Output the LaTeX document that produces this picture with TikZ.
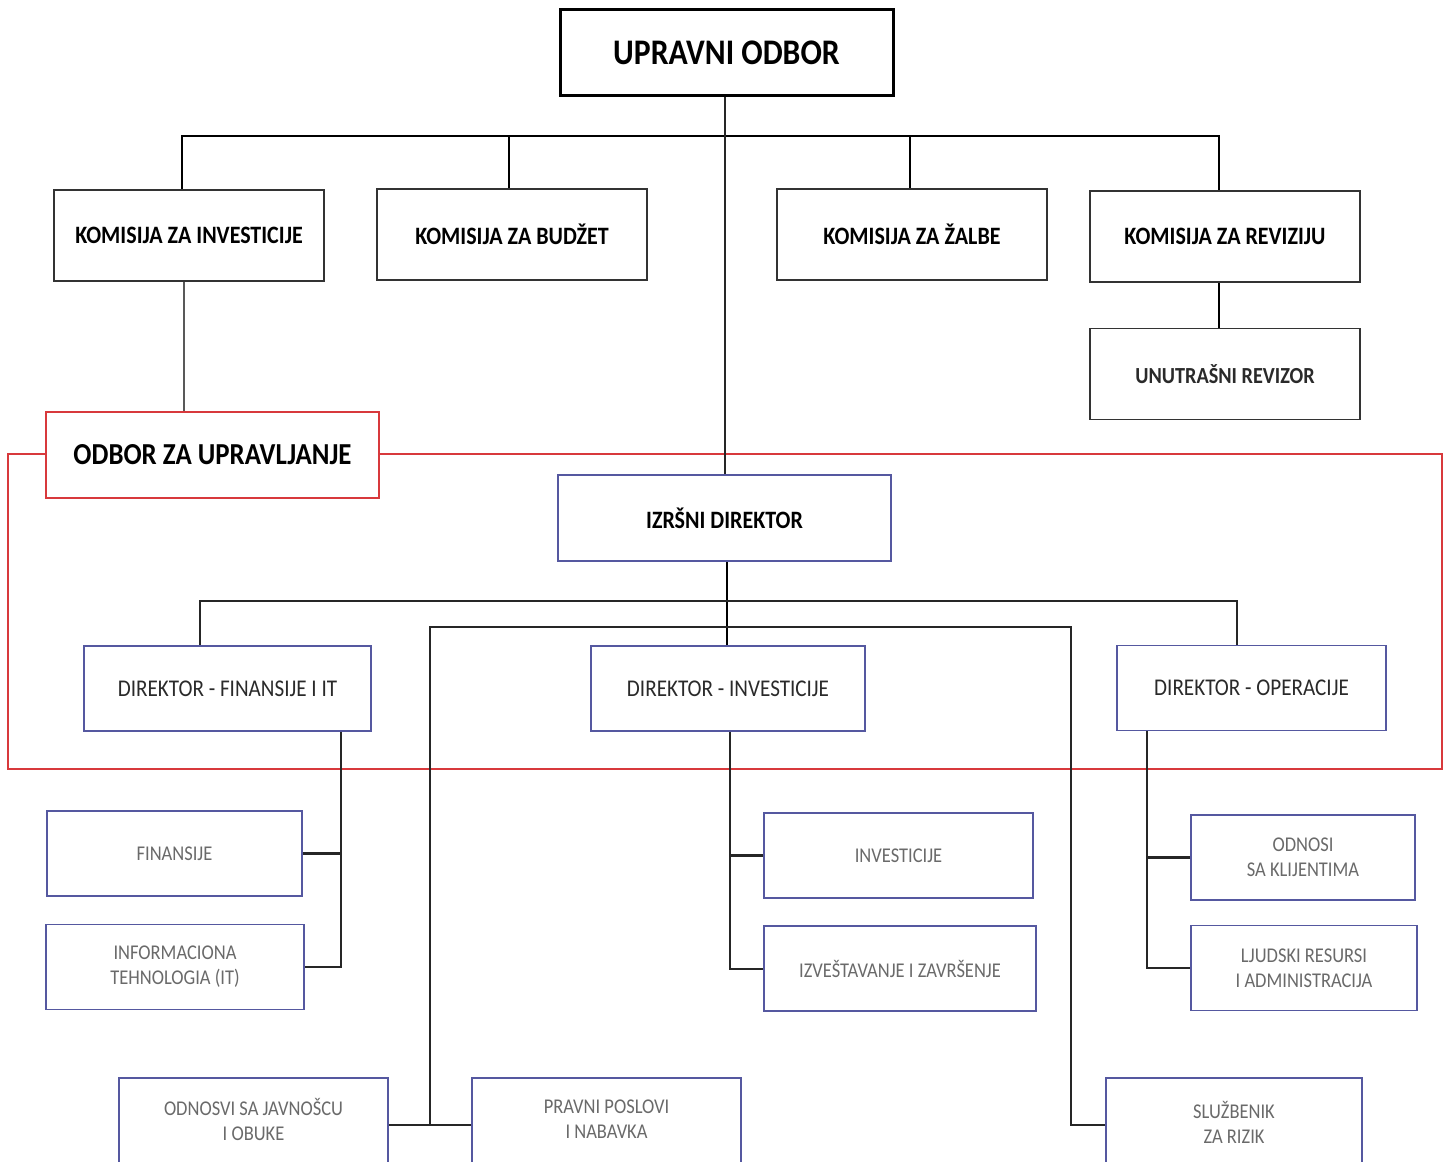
\documentclass[tikz,border=0pt]{standalone}
\usepackage{fontspec}
\setmainfont{Carlito}[FakeStretch=0.88]
\definecolor{bluebd}{HTML}{5558A0}
\definecolor{redbd}{HTML}{D8393C}
\definecolor{lowtxt}{HTML}{6A6A6A}
\definecolor{midtxt}{HTML}{2A2A2A}
\begin{document}
\begin{tikzpicture}[x=1pt,y=-1pt,
  boxbase/.style={draw,rectangle,inner sep=0pt,align=center,fill=white},
  topbox/.style={boxbase,line width=3pt,font=\fontsize{36}{40}\selectfont\bfseries},
  kombox/.style={boxbase,draw=black!80,line width=1.6pt,minimum width=270,minimum height=91,font=\fontsize{25}{29}\selectfont\bfseries},
  odbbox/.style={boxbase,draw=redbd,line width=1.8pt,minimum width=333,minimum height=86,font=\fontsize{30.5}{34}\selectfont\bfseries},
  izvbox/.style={boxbase,draw=bluebd,line width=1.8pt,minimum width=333,minimum height=86,font=\fontsize{25}{29}\selectfont\bfseries},
  dirbox/.style={boxbase,draw=bluebd,line width=1.8pt,minimum height=85,text=midtxt,font=\fontsize{24}{28}\selectfont},
  lowbox/.style={boxbase,draw=bluebd,line width=1.8pt,minimum height=85,text=lowtxt,font=\fontsize{21}{25}\selectfont},
  conn/.style={line width=2.4pt,black},
  thin/.style={line width=1.6pt,black!85},
  redline/.style={line width=1.5pt,redbd}]
\clip (0,0) rectangle (1447,1161);
\fill[white] (0,0) rectangle (1447,1161);

% red frame
\coordinate (fBL) at (8,769);
\coordinate (fTR) at (1442,454);

% coordinates for buses
\coordinate (busA) at (724,136);
\coordinate (busB) at (727,601);
\coordinate (ib1) at (430,627);
\coordinate (ib2) at (1071,627);
\coordinate (fv) at (341,0);
\coordinate (iv) at (730,0);
\coordinate (ov) at (1147,0);

% nodes
\node[topbox,minimum width=333,minimum height=86] (top) at (726.5,53) {UPRAVNI ODBOR};
\node[kombox] (k1) at (189,235.5) {KOMISIJA ZA INVESTICIJE};
\node[kombox] (k2) at (512,234.5) {KOMISIJA ZA BUDŽET};
\node[kombox] (k3) at (912,234.5) {KOMISIJA ZA ŽALBE};
\node[kombox] (k4) at (1225,236.5) {KOMISIJA ZA REVIZIJU};
\node[kombox,font=\fontsize{23}{27}\selectfont\bfseries\color{midtxt}] (rev) at (1225,374) {UNUTRAŠNI REVIZOR};

% red frame drawn before odbor so box covers it
\draw[redline] (46,454) -| (fBL) -| (fTR) -- (379,454);
\node[odbbox] (odb) at (212.5,455) {ODBOR ZA UPRAVLJANJE};
\node[izvbox] (izv) at (724.5,518) {IZRŠNI DIREKTOR};

\node[dirbox,minimum width=287] (dfin) at (227.5,688.5) {DIREKTOR - FINANSIJE I IT};
\node[dirbox,minimum width=274] (dinv) at (728,688.5) {DIREKTOR - INVESTICIJE};
\node[dirbox,minimum width=269] (dop) at (1251.5,688) {DIREKTOR - OPERACIJE};

\node[lowbox,minimum width=255] (fin) at (174.5,853.5) {FINANSIJE};
\node[lowbox,minimum width=258] (it) at (175,967) {INFORMACIONA\\TEHNOLOGIA (IT)};
\node[lowbox,minimum width=269] (inv) at (898.5,855.5) {INVESTICIJE};
\node[lowbox,minimum width=272] (izv2) at (900,968.5) {IZVEŠTAVANJE I ZAVRŠENJE};
\node[lowbox,minimum width=224] (kli) at (1303,857.5) {ODNOSI\\SA KLIJENTIMA};
\node[lowbox,minimum width=226] (ljr) at (1304,968) {LJUDSKI RESURSI\\I ADMINISTRACIJA};

\node[lowbox,minimum width=269,minimum height=94] (odn) at (253.5,1125) {};
\node[lowbox,minimum width=269,minimum height=94] (prav) at (606.5,1125) {};
\node[lowbox,minimum width=256,minimum height=94] (sluz) at (1234,1125) {};
\node[lowbox,draw=none,fill=none] (odnt) at (253.5,1119) {ODNOSVI SA JAVNOŠCU\\I OBUKE};
\node[lowbox,draw=none,fill=none] (pravt) at (606.5,1119) {PRAVNI POSLOVI\\I NABAVKA};
\node[lowbox,draw=none,fill=none] (sluzt) at (1234,1122) {SLUŽBENIK\\ZA RIZIK};

% top-level connectors
\draw[conn] ([xshift=-7]k1.north) |- (busA) -| ([xshift=-6]k4.north);
\draw[conn] ([xshift=-3]k2.north) -- ([xshift=-3]k2.north |- busA);
\draw[conn] ([xshift=-2]k3.north) -- ([xshift=-2]k3.north |- busA);
\draw[thin,line width=2pt] (izv.north) -- (izv.north |- top.south);
\draw[conn] ([xshift=-6]k4.south) -- ([xshift=-6]rev.north);
\draw[line width=1.8pt,black!65] ([xshift=-5]k1.south) -- ([xshift=-5]k1.south |- odb.north);

% director bus
\draw[conn] ([xshift=-1]dinv.north) -- ([xshift=-1]dinv.north |- izv.south);
\draw[thin,line width=2pt] ([xshift=-27.5]dfin.north) |- (busB) -| ([xshift=-14.5]dop.north);

% inner bracket
\draw[thin] (ib1 |- odn.east) -- (ib1) -- (ib2) |- (sluz.west);
\draw[thin,line width=2pt] (odn.east) -- (prav.west);

% branches
\draw[thin,line width=2pt] (dfin.south -| fv) |- (it.east);
\draw[thin,line width=2.4pt] (fin.east) -- (fin.east -| fv);
\draw[thin,line width=2pt] (dinv.south -| iv) |- (izv2.west);
\draw[thin,line width=2.4pt] (inv.west) -- (inv.west -| iv);
\draw[thin,line width=2pt] (dop.south -| ov) |- (ljr.west);
\draw[thin,line width=2.8pt] (kli.west) -- (kli.west -| ov);
\end{tikzpicture}
\end{document}
